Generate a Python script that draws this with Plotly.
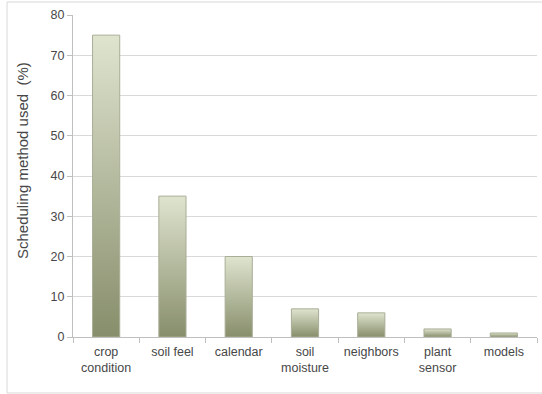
import plotly.graph_objects as go

categories = ["crop<br>condition", "soil feel", "calendar", "soil<br>moisture",
              "neighbors", "plant<br>sensor", "models"]
values = [75, 35, 20, 7, 6, 2, 1]
y_ticks = [0, 10, 20, 30, 40, 50, 60, 70, 80]
y_title = "Scheduling method used\u00a0\u00a0(%)"

bar_width = 0.41
top_color = "#dfe4cf"
bottom_color = "#878e6b"
edge_color = "#a9ae96"

fig = go.Figure()
for i, v in enumerate(values):
    x0, x1 = i - bar_width / 2, i + bar_width / 2
    fig.add_trace(go.Scatter(
        x=[x0, x0, x1, x1, x0],
        y=[0, v, v, 0, 0],
        mode="lines",
        fill="toself",
        fillgradient=dict(type="vertical",
                          colorscale=[[0, bottom_color], [1, top_color]]),
        line=dict(color=edge_color, width=1),
        hoverinfo="skip",
        showlegend=False,
    ))

fig.update_layout(
    width=542, height=394,
    margin=dict(l=73, r=5, t=15, b=57),
    paper_bgcolor="white", plot_bgcolor="white",
    font=dict(family="Liberation Sans, Arial, sans-serif", color="#474747", size=12.5),
    showlegend=False,
    shapes=[dict(type="rect", xref="paper", yref="paper",
                 x0=-0.1422, x1=1.012, y0=-0.1739, y1=1.0404,
                 line=dict(color="#d9d9d9", width=1), layer="below")],
    annotations=[dict(text=y_title, textangle=-90, showarrow=False,
                      xref="paper", yref="paper",
                      x=(22 - 73) / 464, y=(337 - 161) / 322,
                      xanchor="center", yanchor="middle",
                      font=dict(size=15, color="#474747"))],
)
fig.update_xaxes(
    range=[-0.5, len(values) - 0.5],
    tickmode="array",
    tickvals=list(range(len(values))),
    ticktext=categories,
    ticks="", showgrid=False,
    showline=True, linecolor="#bfbfbf", linewidth=1,
    zeroline=False,
    ticklabelstandoff=3,
    tickfont=dict(size=12.5, color="#474747"),
    minor=dict(tickmode="linear", tick0=-0.5, dtick=1, ticks="outside",
               ticklen=5, tickcolor="#bfbfbf", showgrid=False),
    fixedrange=True,
)
fig.update_yaxes(
    range=[0, 80],
    tickmode="array", tickvals=y_ticks,
    showgrid=True, gridcolor="#d9d9d9", gridwidth=1,
    showline=True, linecolor="#bfbfbf", linewidth=1,
    ticks="outside", ticklen=5, tickcolor="#bfbfbf",
    zeroline=False,
    tickfont=dict(size=12.5, color="#474747"),
    fixedrange=True,
)

fig.write_html("out.html")
